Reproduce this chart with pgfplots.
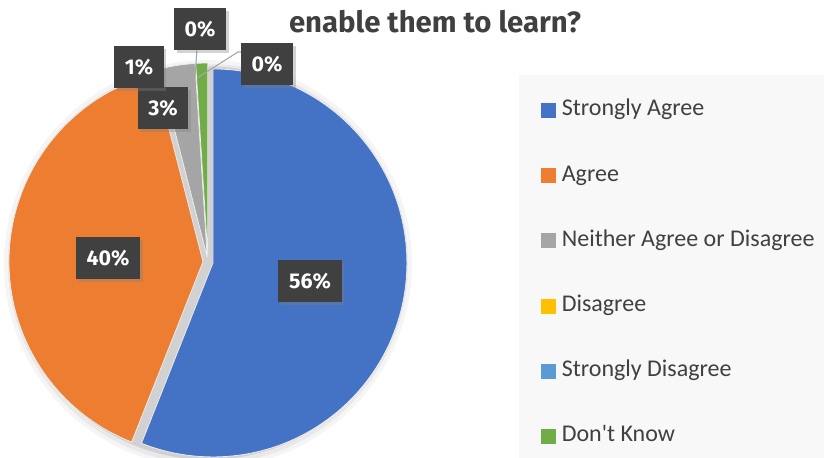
\documentclass[border=0pt]{standalone}
\usepackage{fontspec}
\setmainfont{Carlito}[Ligatures=TeXOff]
\newfontfamily\titlefont{Fira Sans}
\usepackage{pgfplots}
\pgfplotsset{compat=1.18}
\usetikzlibrary{shadows}

\definecolor{cSA}{HTML}{4472C4}
\definecolor{cA}{HTML}{ED7D31}
\definecolor{cN}{HTML}{A5A5A5}
\definecolor{cD}{HTML}{FFC000}
\definecolor{cSD}{HTML}{5B9BD5}
\definecolor{cDK}{HTML}{70AD47}
\definecolor{txt}{HTML}{404040}
\definecolor{lgbg}{HTML}{F8F8F8}
\definecolor{lblbg}{HTML}{404040}

% pie centre and radius in pixel units (1 unit = 0.75pt)
\def\cx{208}
\def\cy{195}
\def\rad{145.5pt}
\def\expl{5}

\begin{document}
\begin{tikzpicture}[
  lbl/.style={fill=lblbg, text=white, font=\titlefont\bfseries\fontsize{16}{18}\selectfont,
    inner xsep=8pt, inner ysep=10pt, text height=11.5pt, text depth=0pt,
    drop shadow={shadow xshift=2pt, shadow yshift=-2pt, opacity=0.35}},
]
\begin{axis}[
    scale only axis,
    width=618pt, height=342.75pt,
    xmin=0, xmax=824, ymin=0, ymax=457,
    hide axis,
    legend style={at={(axis cs:519,382)}, anchor=north west, fill=lgbg, draw=none,
      font=\fontsize{18}{21}\selectfont, text=txt,
      inner xsep=16.5pt, inner ysep=17.5pt, row sep=31.4pt,
      nodes={inner sep=0pt, text height=13pt, text depth=4.5pt},
      /tikz/every odd column/.append style={column sep=4.5pt}},
    legend cell align=left,
]
% legend panel background, running to the picture's edges
\fill[lgbg] (axis cs:519,0) rectangle (axis cs:824,382);

% soft shadow behind the pie
\fill[black, opacity=0.04] (axis cs:\cx,\cy-2) circle[radius=153pt];
\fill[black, opacity=0.05] (axis cs:\cx,\cy-2) circle[radius=150pt];
\fill[black, opacity=0.10] (axis cs:\cx,\cy-1) circle[radius=147.5pt];

\xdef\cum{90}
\foreach \v/\c in {56/cSA, 40/cA, 3/cN, 0/cD, 0/cSD, 1/cDK} {
  \pgfmathsetmacro\a{\cum}
  \pgfmathsetmacro\b{\cum-3.6*\v}
  \pgfmathsetmacro\m{(\a+\b)/2}
  \pgfmathsetmacro\px{\cx+\expl*cos(\m)}
  \pgfmathsetmacro\py{\cy+\expl*sin(\m)}
  \ifdim\v pt>0pt
    \edef\temp{\noexpand\fill[\c, draw=white!85!gray, line width=0.6pt]
      (axis cs:\px,\py) -- ++(\a:\rad) arc[start angle=\a, end angle=\b, radius=\rad] -- cycle;}
    \temp
  \fi
  \xdef\cum{\b}
}

\node[font=\titlefont\bfseries\fontsize{22}{26}\selectfont, text=txt, anchor=base]
  at (axis cs:435,424) {enable them to learn?};

% leader lines
\draw[gray!70, line width=0.8pt] (axis cs:197,408) -- (axis cs:195,380);
\draw[gray!70, line width=0.8pt] (axis cs:243,405) -- (axis cs:238,405) -- (axis cs:197,379);

% data labels
\node[lbl] at (axis cs:310,176) {56\%};
\node[lbl] at (axis cs:108,199) {40\%};
\node[lbl] at (axis cs:163,349) {3\%};
\node[lbl] at (axis cs:139,390) {1\%};
\node[lbl] at (axis cs:200,428) {0\%};
\node[lbl] at (axis cs:267,393) {0\%};

\addlegendimage{legend image code/.code={\fill[cSA] (0pt,-5.25pt) rectangle (10.5pt,5.25pt);}}
\addlegendentry{Strongly Agree}
\addlegendimage{legend image code/.code={\fill[cA] (0pt,-5.25pt) rectangle (10.5pt,5.25pt);}}
\addlegendentry{Agree}
\addlegendimage{legend image code/.code={\fill[cN] (0pt,-5.25pt) rectangle (10.5pt,5.25pt);}}
\addlegendentry{Neither Agree or Disagree}
\addlegendimage{legend image code/.code={\fill[cD] (0pt,-5.25pt) rectangle (10.5pt,5.25pt);}}
\addlegendentry{Disagree}
\addlegendimage{legend image code/.code={\fill[cSD] (0pt,-5.25pt) rectangle (10.5pt,5.25pt);}}
\addlegendentry{Strongly Disagree}
\addlegendimage{legend image code/.code={\fill[cDK] (0pt,-5.25pt) rectangle (10.5pt,5.25pt);}}
\addlegendentry{Don't Know}
\end{axis}
\pgfresetboundingbox
\path[use as bounding box] (current axis.south west) rectangle (current axis.north east);
\end{tikzpicture}
\end{document}
